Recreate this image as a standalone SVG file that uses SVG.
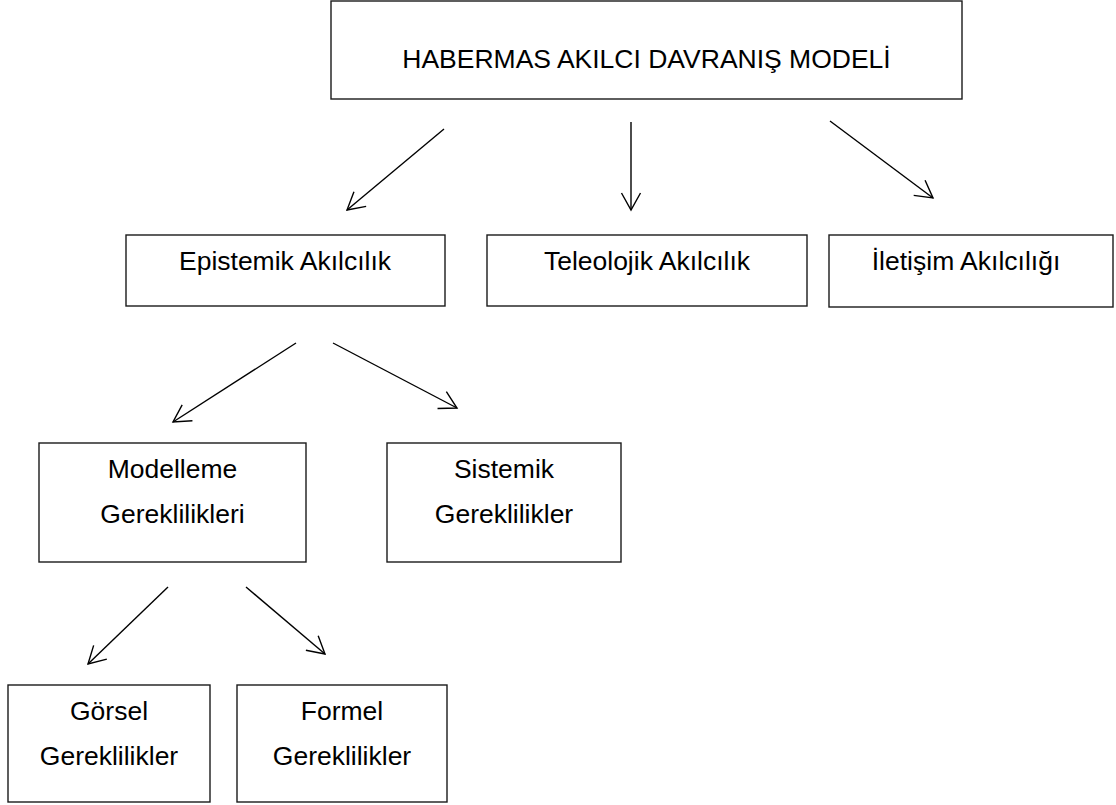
<svg xmlns="http://www.w3.org/2000/svg" width="1116" height="805" viewBox="0 0 1116 805">
<style>
.box{fill:#fff;stroke:#1a1a1a;stroke-width:1.4}
.t{font-family:"Liberation Sans",Arial,sans-serif;font-size:26.5px;fill:#000;text-anchor:middle}
.c{stroke:#000;stroke-width:1.4;fill:none;marker-end:url(#ah)}
</style>
<defs>
<marker id="ah" markerUnits="userSpaceOnUse" markerWidth="24" markerHeight="24" viewBox="-20 -12 24 24" refX="0" refY="0" orient="auto">
<path d="M-17,-9.5 L0,0 L-17,9.5" fill="none" stroke="#000" stroke-width="1.4"/>
</marker>
</defs>
<rect width="1116" height="805" fill="#fff"/>
<g id="n-root"><rect class="box" x="331" y="1" width="631" height="98"/><text class="t" x="646.5" y="68">HABERMAS AKILCI DAVRANIŞ MODELİ</text></g>
<g id="n-epistemik"><rect class="box" x="126" y="235" width="319" height="71"/><text class="t" x="285" y="270">Epistemik Akılcılık</text></g>
<g id="n-teleolojik"><rect class="box" x="487" y="235" width="320" height="71"/><text class="t" x="647" y="270">Teleolojik Akılcılık</text></g>
<g id="n-iletisim"><rect class="box" x="829" y="235" width="284" height="72"/><text class="t" x="966" y="270">İletişim Akılcılığı</text></g>
<g id="n-modelleme"><rect class="box" x="39" y="443" width="267" height="119"/><text class="t" x="172.5" y="478">Modelleme</text><text class="t" x="172.5" y="523">Gereklilikleri</text></g>
<g id="n-sistemik"><rect class="box" x="387" y="443" width="234" height="119"/><text class="t" x="504" y="478">Sistemik</text><text class="t" x="504" y="523">Gereklilikler</text></g>
<g id="n-gorsel"><rect class="box" x="8" y="685" width="202" height="117"/><text class="t" x="109" y="720">Görsel</text><text class="t" x="109" y="765">Gereklilikler</text></g>
<g id="n-formel"><rect class="box" x="237" y="685" width="210" height="117"/><text class="t" x="342" y="720">Formel</text><text class="t" x="342" y="765">Gereklilikler</text></g>
<g id="connectors">
<line class="c" x1="444" y1="129" x2="347" y2="210"/>
<line class="c" x1="631" y1="122" x2="631" y2="210"/>
<line class="c" x1="830" y1="121" x2="933" y2="198"/>
<line class="c" x1="296" y1="343" x2="173" y2="422"/>
<line class="c" x1="333" y1="343" x2="457" y2="408"/>
<line class="c" x1="168" y1="587" x2="88" y2="664"/>
<line class="c" x1="246" y1="587" x2="325" y2="654"/>
</g>
</svg>
